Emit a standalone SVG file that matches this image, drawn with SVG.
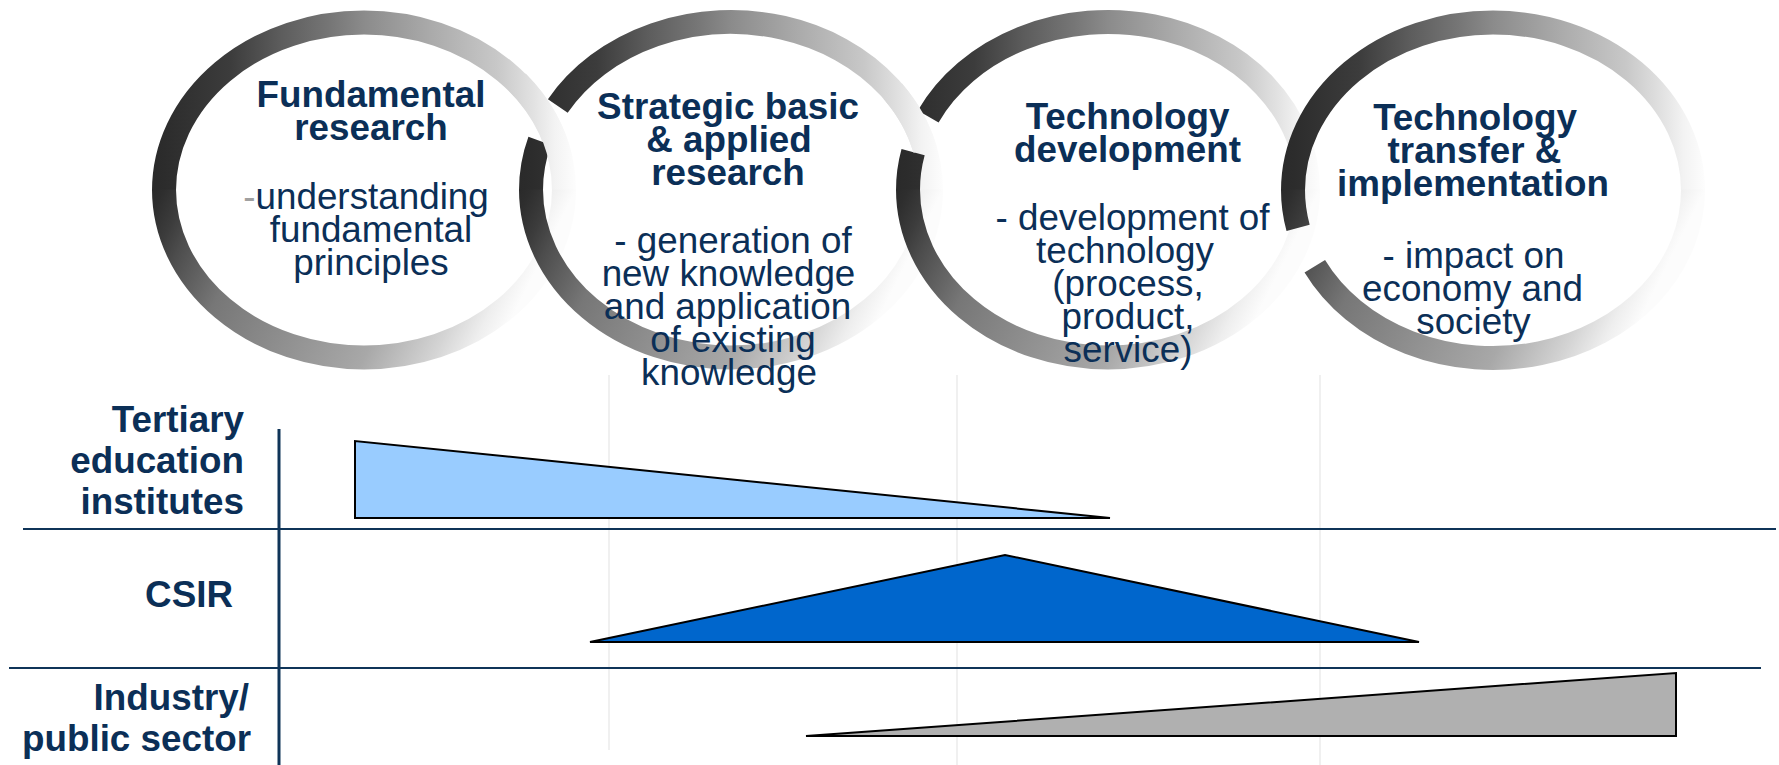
<svg xmlns="http://www.w3.org/2000/svg" width="1779" height="765" viewBox="0 0 1779 765">
<defs>
<linearGradient id="gUp" gradientUnits="userSpaceOnUse" x1="-212" y1="0" x2="212" y2="0">
<stop offset="0" stop-color="#2a2a2a"/>
<stop offset="0.03" stop-color="#2c2c2c"/>
<stop offset="0.184" stop-color="#3c3c3c"/>
<stop offset="0.302" stop-color="#5c5c5c"/>
<stop offset="0.42" stop-color="#767676"/>
<stop offset="0.5" stop-color="#8b8b8b"/>
<stop offset="0.656" stop-color="#aaaaaa"/>
<stop offset="0.814" stop-color="#c8c8c8"/>
<stop offset="0.9" stop-color="#e2e2e2"/>
<stop offset="0.95" stop-color="#f3f3f3"/>
<stop offset="1" stop-color="#fdfdfd"/>
</linearGradient>
<linearGradient id="gLo" gradientUnits="userSpaceOnUse" x1="-212" y1="0" x2="127.2" y2="169.6">
<stop offset="0" stop-color="#2a2a2a"/>
<stop offset="0.028" stop-color="#2e2e2e"/>
<stop offset="0.084" stop-color="#3c3c3c"/>
<stop offset="0.134" stop-color="#4d4d4d"/>
<stop offset="0.223" stop-color="#666666"/>
<stop offset="0.281" stop-color="#777777"/>
<stop offset="0.436" stop-color="#898989"/>
<stop offset="0.698" stop-color="#a8a8a8"/>
<stop offset="0.86" stop-color="#d4d4d4"/>
<stop offset="0.94" stop-color="#eeeeee"/>
<stop offset="1" stop-color="#fcfcfc"/>
</linearGradient>
</defs>
<style>
.ring{fill:none;stroke-width:24}
.ti{font-family:"Liberation Sans",Arial,sans-serif;font-weight:bold;font-size:36.8px;fill:#0b2f57;text-anchor:middle}
.bd{font-family:"Liberation Sans",Arial,sans-serif;font-size:36.8px;fill:#0b2f57;text-anchor:middle}
.lb{font-family:"Liberation Sans",Arial,sans-serif;font-weight:bold;font-size:36.8px;fill:#0b2f57;text-anchor:end}
.grid{stroke:#f0f0f0;stroke-width:2}
.lane{stroke:#0f3458;stroke-width:2;fill:none}
.tri{stroke:#000000;stroke-width:2;stroke-linejoin:miter}
</style>
<rect width="1779" height="765" fill="#ffffff"/>

<g id="grid">
<line class="grid" x1="609" y1="375" x2="609" y2="750"/>
<line class="grid" x1="957" y1="375" x2="957" y2="765"/>
<line class="grid" x1="1320" y1="375" x2="1320" y2="765"/>
</g>

<g id="rings">
<g id="ring1" transform="translate(364,190)">
<path class="ring" stroke="url(#gUp)" d="M-200,0.5 A200,168 0 0 1 200,0.5"/>
<path class="ring" stroke="url(#gLo)" d="M200,-0.5 A200,168 0 0 1 -200,-0.5"/>
</g>
<g id="ring2" transform="translate(731,190)">
<path class="ring" stroke="url(#gUp)" d="M-200,0.5 A200,168 0 0 1 -191.3,-49.1"/>
<path class="ring" stroke="url(#gUp)" d="M-173.2,-84 A200,168 0 0 1 200,0.5"/>
<path class="ring" stroke="url(#gLo)" d="M200,-0.5 A200,168 0 0 1 -200,-0.5"/>
</g>
<g id="ring3" transform="translate(1108,190)">
<path class="ring" stroke="url(#gUp)" d="M-200,0.5 A200,168 0 0 1 -194.9,-37.8"/>
<path class="ring" stroke="url(#gUp)" d="M-179.8,-73.6 A200,168 0 0 1 200,0.5"/>
<path class="ring" stroke="url(#gLo)" d="M200,-0.5 A200,168 0 0 1 -200,-0.5"/>
</g>
<g id="ring4" transform="translate(1493,190)">
<path class="ring" stroke="url(#gUp)" d="M-200,0.5 A200,168 0 0 1 200,0.5"/>
<path class="ring" stroke="url(#gLo)" d="M200,-0.5 A200,168 0 0 1 -178.2,76.3"/>
<path class="ring" stroke="url(#gLo)" d="M-194.9,37.8 A200,168 0 0 1 -200,-0.5"/>
</g>
<g transform="translate(364,190)"><path class="ring" stroke="url(#gUp)" d="M153.2,-108 A200,168 0 0 1 197,-29.2"/></g>
<g transform="translate(731,190)"><path class="ring" stroke="url(#gUp)" d="M161.8,-98.8 A200,168 0 0 1 194.1,-40.6"/></g>
</g>

<g id="stage-fundamental">
<text class="ti" x="371" y="107">Fundamental</text>
<text class="ti" x="371" y="140">research</text>
<text class="bd" x="366" y="209"><tspan fill="#a0a0a0">-</tspan>understanding</text>
<text class="bd" x="371" y="242">fundamental</text>
<text class="bd" x="371" y="275">principles</text>
</g>

<g id="stage-strategic">
<text class="ti" x="728" y="119">Strategic basic</text>
<text class="ti" x="729" y="152">&amp; applied</text>
<text class="ti" x="728" y="185">research</text>
<text class="bd" x="733" y="253">- generation of</text>
<text class="bd" x="728.5" y="286">new knowledge</text>
<text class="bd" x="727.5" y="319">and application</text>
<text class="bd" x="733" y="352">of existing</text>
<text class="bd" x="729" y="385">knowledge</text>
</g>

<g id="stage-techdev">
<text class="ti" x="1127.5" y="129">Technology</text>
<text class="ti" x="1127.5" y="162">development</text>
<text class="bd" x="1132.5" y="230">- development of</text>
<text class="bd" x="1125" y="263">technology</text>
<text class="bd" x="1128" y="296">(process,</text>
<text class="bd" x="1128" y="329">product,</text>
<text class="bd" x="1128" y="362">service)</text>
</g>

<g id="stage-transfer">
<text class="ti" x="1475" y="130">Technology</text>
<text class="ti" x="1474.5" y="163">transfer &amp;</text>
<text class="ti" x="1473" y="196">implementation</text>
<text class="bd" x="1473.5" y="268">- impact on</text>
<text class="bd" x="1472.5" y="301">economy and</text>
<text class="bd" x="1473.5" y="334">society</text>
</g>

<g id="connectors">
<line class="lane" x1="23" y1="529" x2="1776" y2="529"/>
<line class="lane" x1="9" y1="668" x2="1761" y2="668"/>
<line class="lane" x1="279" y1="429" x2="279" y2="765" style="stroke-width:3"/>
</g>

<g id="lane-tertiary">
<text class="lb" x="244" y="432">Tertiary</text>
<text class="lb" x="244" y="473">education</text>
<text class="lb" x="244" y="514">institutes</text>
<polygon class="tri" fill="#99ccff" points="355,441 355,518 1110,518"/>
</g>

<g id="lane-csir">
<text class="lb" x="233" y="607">CSIR</text>
<polygon class="tri" fill="#0066cc" points="590,642 1005,555 1419,642"/>
</g>

<g id="lane-industry">
<text class="lb" x="249" y="710">Industry/</text>
<text class="lb" x="251" y="751">public sector</text>
<polygon class="tri" fill="#b0b0b0" points="806,736 1676,673 1676,736"/>
</g>
</svg>
